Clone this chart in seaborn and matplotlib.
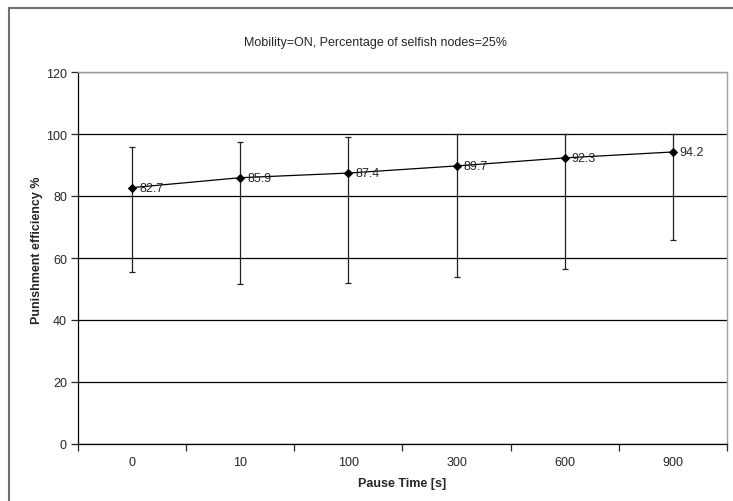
import seaborn as sns
import matplotlib.pyplot as plt
from matplotlib.patches import Rectangle

# data
pause_times = ['0', '10', '100', '300', '600', '900']
efficiency = [82.7, 85.9, 87.4, 89.7, 92.3, 94.2]
err_upper = [95.8, 97.5, 99.1, 100, 100, 100]
err_lower = [55.6, 51.5, 51.8, 53.9, 56.3, 65.8]

sns.set_style('white')
plt.rcParams['font.family'] = ['Liberation Sans', 'DejaVu Sans']

fig = plt.figure(figsize=(7.33, 5.02), dpi=100)
ax = fig.add_axes([78 / 733, 1 - 445 / 502, (727 - 78) / 733, (445 - 73) / 502])

pos = list(range(len(pause_times)))

# error bars
yerr = [[v - lo for v, lo in zip(efficiency, err_lower)],
        [hi - v for v, hi in zip(efficiency, err_upper)]]
ax.errorbar(pos, efficiency, yerr=yerr, fmt='none', ecolor='#222222',
            elinewidth=0.9, capsize=2.5, capthick=0.9, zorder=3)

sns.lineplot(x=pos, y=efficiency, ax=ax, color='black', linewidth=0.9,
             marker='D', markersize=4, markeredgecolor='black', zorder=4)

for p, v in zip(pos, efficiency):
    ax.annotate(f'{v}', (p, v), xytext=(5, 0), textcoords='offset points',
                va='center', ha='left', fontsize=9, zorder=5)

ax.set_xlim(-0.5, len(pause_times) - 0.5)
ax.set_ylim(0, 120)
ax.set_yticks(range(0, 121, 20))
ax.set_xticks(pos)
ax.set_xticklabels(pause_times)
ax.set_xticks([p - 0.5 for p in pos] + [len(pos) - 0.5], minor=True)
ax.tick_params(axis='x', which='major', length=0, pad=9, labelsize=9)
ax.tick_params(axis='x', which='minor', length=5, width=0.9, direction='out', bottom=True)
ax.tick_params(axis='y', length=5, width=0.9, direction='out', left=True, labelsize=9, pad=3)

ax.yaxis.grid(True, color='black', linewidth=0.9)
ax.set_axisbelow(True)
for side in ['left', 'bottom']:
    ax.spines[side].set_color('black')
    ax.spines[side].set_linewidth(0.9)
for side in ['top', 'right']:
    ax.spines[side].set_color('#a0a0a0')
    ax.spines[side].set_linewidth(1)

ax.set_xlabel('Pause Time [s]', fontsize=9, fontweight='bold', labelpad=6)
ax.set_ylabel('Punishment efficiency %', fontsize=9, fontweight='bold')
ax.yaxis.set_label_coords(-0.054, 0.524)

fig.text(375 / 733, 1 - 43 / 502, 'Mobility=ON, Percentage of selfish nodes=25%',
         ha='center', va='center', fontsize=9)

fig.patches.append(Rectangle((9 / 733, -0.1), 1.2, 1.1 - 9 / 502,
                             transform=fig.transFigure, fill=False,
                             edgecolor='#707070', linewidth=1.5))

fig.savefig('out.png', dpi=100)
